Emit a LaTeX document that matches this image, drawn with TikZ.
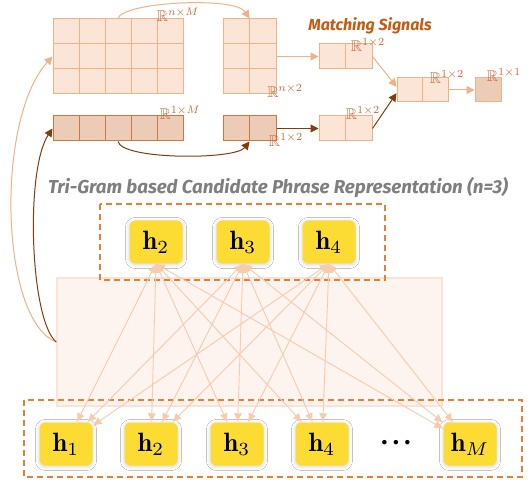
\documentclass[tikz,border=0pt]{standalone}
\usepackage{amsmath}
\usepackage{amssymb}
\usepackage{graphicx}
\usepackage{fontspec}
\usetikzlibrary{arrows.meta}
\usetikzlibrary{shadows.blur}
\newfontfamily\titlefont{Fira Sans}

\definecolor{hyellow}{RGB}{252,219,51}
\definecolor{cellfill}{RGB}{251,229,214}
\definecolor{cellline}{RGB}{244,177,131}
\definecolor{darkfill}{RGB}{236,204,182}
\definecolor{darkline}{RGB}{204,120,64}
\definecolor{brownarr}{RGB}{132,60,12}
\definecolor{dashorange}{RGB}{237,125,49}
\definecolor{attnfill}{RGB}{253,243,239}
\definecolor{attnline}{RGB}{251,227,214}
\definecolor{attnarrow}{RGB}{248,203,173}
\definecolor{lblbrown}{RGB}{197,110,60}
\definecolor{lblred}{RGB}{214,100,60}
\definecolor{titlegray}{RGB}{127,127,127}
\definecolor{signalbrown}{RGB}{197,90,17}

\newcommand{\hvec}[1]{\scalebox{2.65}{$\mathbf{h}_{#1}$}}
\newcommand{\dimR}[2]{\scalebox{1.55}{$\mathbb{R}^{#1\times #2}$}}

\begin{document}
\begin{tikzpicture}[x=1pt,y=1pt,yscale=-1,xscale=1,
	hnode/.style={rounded corners=6pt, fill=hyellow, minimum width=53pt, minimum height=43pt, inner sep=0pt,
		blur shadow={shadow xshift=0pt, shadow yshift=-1pt, shadow blur radius=4pt, shadow opacity=18}},
	matbox/.style={draw=cellline, fill=cellfill, line width=1pt, inner sep=0pt},
	darkbox/.style={draw=darkline, fill=darkfill, line width=1pt, inner sep=0pt},
	gridline/.style={cellline, line width=1pt},
	darkgrid/.style={darkline, line width=1pt},
	lightarr/.style={cellline, line width=1pt, -{Triangle[length=8pt,width=8pt]}},
	darkarr/.style={brownarr, line width=1pt, -{Triangle[length=8pt,width=8pt]}},
	attnarr/.style={attnarrow, line width=0.9pt, {Latex[length=9pt,width=8pt]}-{Latex[length=9pt,width=8pt]}},
	dashbox/.style={dashorange, line width=1.5pt, dash pattern=on 6pt off 4pt},
	dimlabel/.style={inner sep=0pt}]
	\useasboundingbox[fill=white] (0,0) rectangle (528,481);
	
	%Shape: Attention block
	\node (attn) [draw=attnline, fill=attnfill, line width=1.5pt, minimum width=385pt, minimum height=128pt, inner sep=0pt] at (249.5,342) {};
	%Shape: Dashed boxes
	\draw [dashbox] (100,204) rectangle (385,280);
	\draw [dashbox] (24,400) rectangle (522,477);
	
	%Shape: Phrase nodes
	\node (t2) [hnode] at (156,242) {\hvec{2}};
	\node (t3) [hnode] at (243,242) {\hvec{3}};
	\node (t4) [hnode] at (329,242) {\hvec{4}};
	%Shape: Token nodes
	\node (b1) [hnode] at (66,444) {\hvec{1}};
	\node (b2) [hnode] at (151,444) {\hvec{2}};
	\node (b3) [hnode] at (237,444) {\hvec{3}};
	\node (b4) [hnode] at (322,444) {\hvec{4}};
	\node (dots) at (396,443) {\scalebox{1.15}{$\bullet\;\bullet\;\bullet$}};
	\node (bM) [hnode] at (470,444) {\hvec{M}};
	
	%Straight Lines: attention
	\foreach \s in {t2,t3,t4}
		\foreach \d in {b1,b2,b3,b4,bM}
			\draw [attnarr] (\s.south) -- (\d);
	
	%Shape: Matrices
	\node (bigmat) [matbox, minimum width=130pt, minimum height=75pt] at (118,56.5) {};
	\foreach \x in {79,105,131,157}
		\draw [gridline] (\x,19) -- (\x,94);
	\foreach \y in {44,69}
		\draw [gridline] (53,\y) -- (183,\y);
	\node (nmat) [matbox, minimum width=53pt, minimum height=75pt] at (249.5,56.5) {};
	\draw [gridline] (249.5,19) -- (249.5,94);
	\foreach \y in {44,69}
		\draw [gridline] (223,\y) -- (276,\y);
	\node (rowM) [darkbox, minimum width=130pt, minimum height=25pt] at (118,128.5) {};
	\foreach \x in {79,105,131,157}
		\draw [darkgrid] (\x,116) -- (\x,141);
	\node (row2) [darkbox, minimum width=53pt, minimum height=25pt] at (249.5,128.5) {};
	\draw [darkgrid] (249.5,116) -- (249.5,141);
	\node (sigA) [matbox, minimum width=53pt, minimum height=25pt] at (345.5,56.5) {};
	\draw [gridline] (345.5,44) -- (345.5,69);
	\node (sigB) [matbox, minimum width=53pt, minimum height=25pt] at (345.5,128.5) {};
	\draw [gridline] (345.5,116) -- (345.5,141);
	\node (sigC) [matbox, minimum width=51pt, minimum height=24pt] at (422.5,90) {};
	\draw [gridline] (422.5,78) -- (422.5,102);
	\node (sigD) [darkbox, draw=cellline, minimum width=26pt, minimum height=24pt] at (488,90) {};
	
	%Curve Lines: pooling
	\draw [lightarr] (bigmat.north) .. controls (122,2) and (235,-4) .. (nmat.north);
	\draw [darkarr] (rowM.south) .. controls (122,160) and (235,160) .. (row2.south);
	%Straight Lines: signals
	\draw [lightarr] (nmat.east) -- (sigA.west);
	\draw [darkarr] (row2.east) -- (sigB.west);
	\draw [lightarr] (sigA.east) -- (sigC.173);
	\draw [darkarr] (sigB.east) -- (sigC.187);
	\draw [lightarr] (sigC.east) -- (sigD.west);
	%Curve Lines: from attention block
	\draw [lightarr] (attn.west) .. controls (0,320) and (-5,120) .. (bigmat.west);
	\draw [darkarr] (attn.west) .. controls (30,320) and (25,170) .. (rowM.west);
	
	% Text Node
	\node (lblnM) [dimlabel, text=lblbrown] at (178,15) {\dimR{n}{M}};
	% Text Node
	\node (lbln2) [dimlabel, text=lblbrown] at (285,91) {\dimR{n}{2}};
	% Text Node
	\node (lbl1M) [dimlabel, text=lblbrown] at (180,113) {\dimR{1}{M}};
	% Text Node
	\node (lbl12) [dimlabel, text=lblbrown] at (286,140) {\dimR{1}{2}};
	% Text Node
	\node (lblA) [dimlabel, text=lblbrown] at (368,45) {\dimR{1}{2}};
	% Text Node
	\node (lblB) [dimlabel, text=lblbrown] at (363,113) {\dimR{1}{2}};
	% Text Node
	\node (lblC) [dimlabel, text=lblred] at (447,77) {\dimR{1}{2}};
	% Text Node
	\node (lblD) [dimlabel, text=lblred] at (504,75) {\dimR{1}{1}};
	% Text Node
	\node (signals) [text=signalbrown, font=\titlefont\bfseries\itshape\fontsize{16}{18}\selectfont] at (370,26) {Matching Signals};
	% Text Node
	\node (title) [text=titlegray, font=\titlefont\bfseries\itshape\fontsize{18.7}{21}\selectfont] at (278,188) {Tri-Gram based Candidate Phrase Representation (n=3)};
	
\end{tikzpicture}
\end{document}
